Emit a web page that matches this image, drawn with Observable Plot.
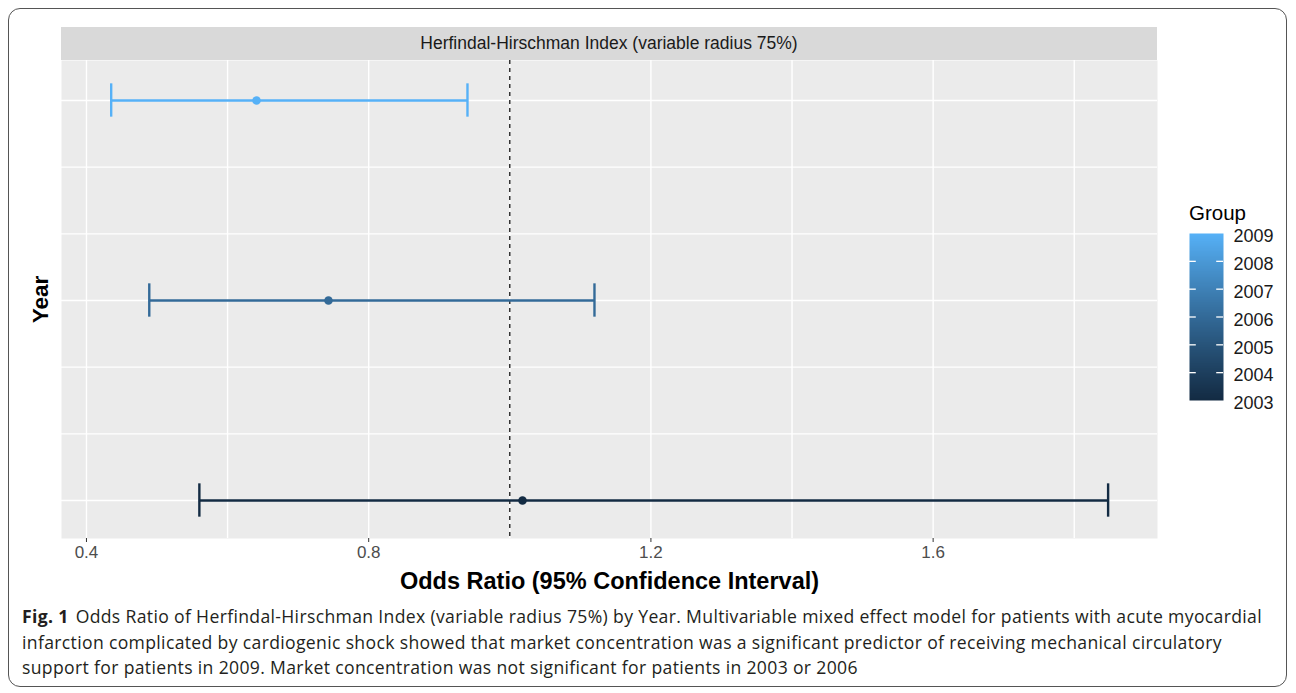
<!DOCTYPE html>
<html>
<head>
<meta charset="utf-8">
<script src="https://cdn.jsdelivr.net/npm/d3@7"></script>
<script src="https://cdn.jsdelivr.net/npm/@observablehq/plot@0.6"></script>
<style>
  html, body { margin: 0; padding: 0; background: #fff; width: 1296px; height: 693px; overflow: hidden; }
  #box { position: absolute; left: 8px; top: 8px; width: 1279px; height: 679px; border: 1px solid #555; border-radius: 12px; box-sizing: border-box; }
  #main { position: absolute; left: 0; top: 0; }
  #strip { position: absolute; left: 61px; top: 27px; width: 1096px; height: 33px; background: #D9D9D9;
           font-family: "Liberation Sans", Arial, sans-serif; font-size: 17.5px; color: #1A1A1A;
           display: flex; align-items: center; justify-content: center; }
  #legtitle { position: absolute; left: 1189px; top: 201px; font-family: "Liberation Sans", Arial, sans-serif; font-size: 20.5px; color: #000; }
  #legend { position: absolute; left: 1189px; top: 223px; }
  #caption { position: absolute; left: 22px; top: 604px; font-family: "Open Sans", "Noto Sans", sans-serif; font-size: 17.6px; line-height: 25.5px; color: #231F20; white-space: nowrap; }
  #caption div { display: block; }
  #caption b { font-weight: 700; margin-right: 7px; }
</style>
</head>
<body>
<div id="box"></div>
<div id="main"></div>
<div id="strip"></div>
<div id="legtitle"></div>
<div id="legend"></div>
<div id="caption"></div>
<script>
// ---- data ----
const years = [2009, 2006, 2003];
const oddsRatio = [0.641, 0.743, 1.018];
const lowerCI = [0.435, 0.489, 0.560];
const upperCI = [0.940, 1.120, 1.848];
const xTicks = [0.4, 0.8, 1.2, 1.6];
const xGrid = [0.4, 0.6, 0.8, 1.0, 1.2, 1.4, 1.6, 1.8];
const yGrid = [2003, 2004, 2005, 2006, 2007, 2008, 2009];
const legendTicks = [2003, 2004, 2005, 2006, 2007, 2008, 2009];
const legendInnerTicks = [2004, 2005, 2006, 2007, 2008];
const stripTitle = "Herfindal-Hirschman Index (variable radius 75%)";
const xLabel = "Odds Ratio (95% Confidence Interval)";
const yLabel = "Year";
const legendTitle = "Group";
const captionBold = "Fig. 1";
const captionLines = [
  "Odds Ratio of Herfindal-Hirschman Index (variable radius 75%) by Year. Multivariable mixed effect model for patients with acute myocardial",
  "infarction complicated by cardiogenic shock showed that market concentration was a significant predictor of receiving mechanical circulatory",
  "support for patients in 2009. Market concentration was not significant for patients in 2003 or 2006"
];

const rows = years.map((y, i) => ({year: y, or: oddsRatio[i], lo: lowerCI[i], hi: upperCI[i]}));
const colorScale = {type: "linear", domain: [2003, 2009], range: ["#132B43", "#56B1F7"], interpolate: "lab"};
const capHalf = 0.25;

const main = Plot.plot({
  width: 1296,
  height: 600,
  marginLeft: 61,
  marginRight: 139,
  marginTop: 60,
  marginBottom: 62,
  style: {fontFamily: "Liberation Sans, Arial, sans-serif", background: "transparent", overflow: "visible"},
  x: {domain: [0.3646, 1.918], label: null},
  y: {domain: [2002.43, 2009.6], label: null, axis: null},
  color: colorScale,
  marks: [
    Plot.frame({fill: "#EBEBEB", stroke: null}),
    Plot.gridX(xGrid, {stroke: "#fff", strokeOpacity: 1, strokeWidth: 1.4}),
    Plot.gridY(yGrid, {stroke: "#fff", strokeOpacity: 1, strokeWidth: 1.4}),
    Plot.ruleX([1], {stroke: "#000", strokeWidth: 1.2, strokeDasharray: "4,4"}),
    Plot.ruleY(rows, {y: "year", x1: "lo", x2: "hi", stroke: "year", strokeWidth: 2.4}),
    Plot.ruleX(rows, {x: "lo", y1: d => d.year - capHalf, y2: d => d.year + capHalf, stroke: "year", strokeWidth: 2.4}),
    Plot.ruleX(rows, {x: "hi", y1: d => d.year - capHalf, y2: d => d.year + capHalf, stroke: "year", strokeWidth: 2.4}),
    Plot.dot(rows, {x: "or", y: "year", fill: "year", r: 4.3, stroke: null}),
    Plot.axisX({ticks: xTicks, tickFormat: d => d.toFixed(1), tickSize: 4, tickPadding: 3, stroke: "#333",
                fill: "#4D4D4D", fontSize: 17, label: null}),
    Plot.text([xLabel], {frameAnchor: "bottom", dy: 43, fontSize: 23.5, fontWeight: "bold", fill: "#000", lineAnchor: "middle"}),
    Plot.text([yLabel], {frameAnchor: "left", dx: -21, rotate: -90, textAnchor: "middle", lineAnchor: "middle",
                         fontSize: 22.5, fontWeight: "bold", fill: "#000"})
  ]
});
document.getElementById("main").appendChild(main);

document.getElementById("strip").textContent = stripTitle;
document.getElementById("legtitle").textContent = legendTitle;

const legend = Plot.plot({
  width: 100,
  height: 187,
  marginLeft: 0,
  marginRight: 66,
  marginTop: 10,
  marginBottom: 10,
  style: {fontFamily: "Liberation Sans, Arial, sans-serif", background: "transparent", overflow: "visible"},
  x: {domain: [0, 1], axis: null},
  y: {domain: [2003, 2009], ticks: legendTicks, tickFormat: d => String(d)},
  color: colorScale,
  marks: [
    Plot.raster({x1: 0, x2: 1, y1: 2003, y2: 2009, width: 1, height: 200, fill: (x, y) => y, interpolate: "nearest"}),
    Plot.ruleY(legendInnerTicks, {x1: 0, x2: 0.2, stroke: "#fff", strokeWidth: 1.3}),
    Plot.ruleY(legendInnerTicks, {x1: 0.8, x2: 1, stroke: "#fff", strokeWidth: 1.3}),
    Plot.axisY({anchor: "right", ticks: legendTicks, tickFormat: d => String(d), tickSize: 0, tickPadding: 10,
                fill: "#1A1A1A", fontSize: 18, label: null, dy: 3})
  ]
});
document.getElementById("legend").appendChild(legend);

// caption: fit the first line to the reference width by letter spacing
const cap = document.getElementById("caption");
const lineEls = captionLines.map((t, i) => {
  const div = document.createElement("div");
  if (i === 0) {
    const b = document.createElement("b");
    b.textContent = captionBold;
    div.appendChild(b);
  }
  const s = document.createElement("span");
  s.textContent = t;
  div.appendChild(s);
  cap.appendChild(div);
  return div;
});
const first = lineEls[0];
const w = first.getBoundingClientRect().width;
const target = 1240;
const chars = captionBold.length + captionLines[0].length;
const ls = (target - w) / chars;
cap.style.letterSpacing = ls + "px";
</script>
</body>
</html>
